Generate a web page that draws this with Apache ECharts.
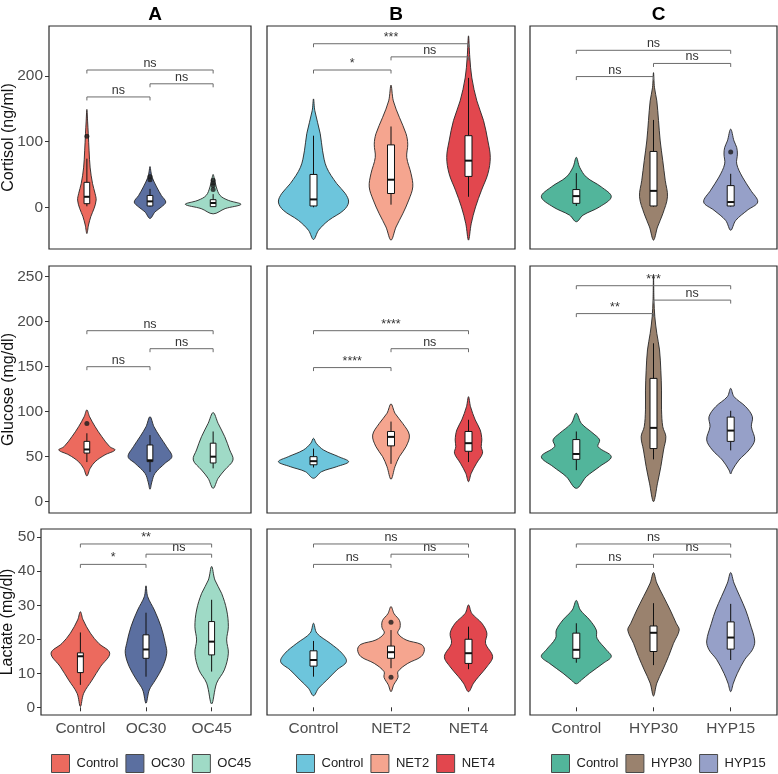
<!DOCTYPE html>
<html>
<head>
<meta charset="utf-8">
<script src="https://cdn.jsdelivr.net/npm/echarts@6/dist/echarts.min.js"></script>
<style>
html,body{margin:0;padding:0;background:#fff;}
#chart{width:778px;height:774px;}
</style>
</head>
<body>
<div id="chart"></div>
<script>
// ---------- labels ----------
const columnTitles = ['A', 'B', 'C'];
const rowTitles = ['Cortisol (ng/ml)', 'Glucose (mg/dl)', 'Lactate (mg/dl)'];
const groupsA = ['Control', 'OC30', 'OC45'];
const groupsB = ['Control', 'NET2', 'NET4'];
const groupsC = ['Control', 'HYP30', 'HYP15'];
const colorsA = ['#EC6A5E', '#5B6FA0', '#9FDAC6'];
const colorsB = ['#6DC5DC', '#F5A58F', '#E2474E'];
const colorsC = ['#52B59B', '#9A826E', '#96A0C8'];

// y tick labels per row
const cortisolTicks = [0, 100, 200];
const glucoseTicks = [0, 50, 100, 150, 200, 250];
const lactateTicks = [0, 10, 20, 30, 40, 50];

// ---------- violin profiles: [value, half-width (category units)] ----------
const cortisolViolinA = [
  [[149,0],[130,0.012],[112,0.022],[86,0.035],[60,0.052],[36,0.09],[21,0.13],[11,0.147],[-1.5,0.115],[-14,0.063],[-27,0.026],[-40,0]],
  [[62,0],[54,0.015],[46,0.032],[31,0.105],[18,0.18],[8,0.25],[0.5,0.18],[-7,0.08],[-17,0]],
  [[50,0],[45,0.016],[31,0.05],[18,0.11],[10.6,0.24],[4.5,0.44],[-2,0.19],[-10,0]]
];
const cortisolViolinB = [
  [[165,0],[147,0.017],[112,0.087],[86,0.117],[61,0.168],[36,0.3],[21,0.41],[8,0.453],[-4.5,0.39],[-20,0.194],[-35,0.065],[-49,0]],
  [[186,0],[162,0.03],[137,0.108],[112,0.194],[96,0.216],[76,0.203],[51,0.259],[31,0.281],[11,0.229],[-10,0.151],[-30,0.065],[-50,0]],
  [[261,0],[228,0.017],[197,0.043],[162,0.108],[132,0.194],[101,0.25],[76,0.281],[51,0.25],[26,0.168],[0.5,0.091],[-25,0.035],[-50,0]]
];
const cortisolViolinC = [
  [[76,0],[61,0.043],[46,0.13],[31,0.324],[16,0.453],[0.5,0.3],[-12,0.087],[-22,0]],
  [[205,0],[182,0.013],[162,0.043],[132,0.065],[101,0.087],[71,0.12],[41,0.152],[16,0.181],[-10,0.12],[-30,0.052],[-50,0]],
  [[119,0],[101,0.043],[91,0.078],[81,0.087],[66,0.078],[46,0.152],[26,0.259],[8,0.35],[-4.5,0.216],[-20,0.065],[-35,0]]
];
const glucoseViolinA = [
  [[102,0],[94.4,0.043],[83.3,0.131],[72.2,0.237],[61.1,0.363],[57.4,0.446],[51.9,0.284],[44.4,0.131],[37,0.052],[28.6,0]],
  [[94.4,0],[83.3,0.063],[72.2,0.158],[61.1,0.263],[50,0.347],[42.6,0.237],[31.5,0.079],[22,0.03],[13.7,0]],
  [[99,0],[87,0.079],[72.2,0.184],[57.4,0.263],[46.3,0.315],[35.2,0.184],[25.9,0.079],[14.8,0]]
];
const glucoseViolinB = [
  [[70.4,0],[64.9,0.035],[57.4,0.13],[50,0.324],[44.4,0.453],[38.9,0.3],[33.3,0.104],[26,0]],
  [[108.6,0],[98.2,0.052],[87,0.151],[74,0.237],[61.1,0.194],[50,0.108],[39,0.052],[24.9,0]],
  [[116.7,0],[105.6,0.026],[90.8,0.087],[79.7,0.151],[68.6,0.172],[61.1,0.164],[53.8,0.181],[42.7,0.104],[31.5,0.035],[22.2,0]]
];
const glucoseViolinC = [
  [[98.2,0],[87,0.065],[76,0.216],[68.6,0.302],[61.1,0.281],[50,0.453],[38.9,0.3],[27.8,0.13],[14.8,0]],
  [[252,0],[224,0.006],[205.6,0.017],[187,0.043],[168.6,0.078],[146,0.095],[124,0.104],[102,0.104],[83.3,0.12],[72.2,0.16],[57.4,0.13],[38.9,0.095],[20.5,0.052],[0,0]],
  [[125.9,0],[116.7,0.043],[105.6,0.194],[94.4,0.281],[83.3,0.268],[68.6,0.311],[57.4,0.237],[46.3,0.108],[35.2,0.022],[30.8,0]]
];
const lactateViolinA = [
  [[28.1,0],[25.7,0.041],[21.8,0.152],[18.8,0.279],[15.9,0.447],[11.9,0.305],[8,0.178],[4.1,0.05],[0.2,0]],
  [[35.7,0],[32.5,0.026],[28.6,0.127],[23.7,0.229],[18.8,0.294],[15.9,0.316],[11.9,0.255],[8,0.142],[5.1,0.05],[1.2,0]],
  [[41.4,0],[37.4,0.05],[33.5,0.152],[28.6,0.229],[23.7,0.255],[19.8,0.229],[15.9,0.255],[11,0.194],[7.1,0.076],[1,0]]
];
const lactateViolinB = [
  [[24.7,0],[21.8,0.043],[18.8,0.216],[15.9,0.367],[13.4,0.424],[11,0.302],[8,0.172],[5.6,0.065],[3.4,0]],
  [[29.6,0],[27.5,0.04],[25.5,0.11],[23.5,0.117],[21.8,0.087],[19.8,0.194],[18.5,0.389],[17,0.431],[14.9,0.389],[12.9,0.216],[10.5,0.09],[8.8,0.09],[6.6,0.035],[4.6,0]],
  [[30.1,0],[27.6,0.043],[24.7,0.172],[21.8,0.237],[18.8,0.22],[14.9,0.311],[11.9,0.237],[9,0.13],[7.1,0.065],[4.6,0]]
];
const lactateViolinC = [
  [[31.4,0],[28.6,0.052],[25.7,0.172],[22.7,0.259],[20.3,0.268],[16.9,0.389],[14.9,0.453],[12.9,0.346],[10,0.172],[8,0.065],[6.9,0]],
  [[39.6,0],[36.5,0.043],[32.5,0.13],[28.6,0.216],[24.7,0.294],[22.7,0.333],[18.8,0.259],[14.9,0.194],[11,0.12],[7.1,0.043],[3.3,0]],
  [[39.6,0],[36.5,0.043],[32.5,0.12],[28.6,0.194],[24.7,0.25],[19.5,0.311],[16.9,0.281],[14,0.181],[10,0.087],[7.1,0.035],[4.6,0]]
];

// ---------- box stats: [lower whisker, Q1, median, Q3, upper whisker] ----------
const cortisolBoxA = [[1.5,5.5,16,38,74],[1,2,9,18,28],[0.5,1,6.5,11.6,20]];
const cortisolBoxB = [[0,2,12,50,109],[4,21,42,95,123],[16,47,71,109,197]];
const cortisolBoxC = [[2,6,17,27,52],[1,2,25,85,133],[1,2,8,33,51]];
const glucoseBoxA = [[44,54,58,67,76],[33,44.5,46,63,74],[37,43,50,65,78]];
const glucoseBoxB = [[38,41,45,50,59],[42,62,72,78,89],[44,56,65,78,91]];
const glucoseBoxC = [[35,47,53,69,78],[47,59,82,137,176],[57,67,79,94,101]];
const lactateBoxA = [[6.6,10.2,15,16,22],[9,14.4,17,21.3,27.8],[10.5,15.4,19.3,25.2,31.6]];
const lactateBoxB = [[9,12.1,13.9,16.6,19.5],[11.5,14.4,16.2,18,22.7],[11.2,12.9,15.9,20,23.7]];
const lactateBoxC = [[13.1,14.4,16.9,21.8,24.7],[12.4,16.4,21.9,23.9,30.6],[13.9,17.1,20.5,25.1,30.4]];

// ---------- outliers: [group (1-3), value] ----------
const cortisolOutA = [[1,108],[2,42],[2,47],[3,27],[3,33],[3,37],[3,41]];
const cortisolOutB = [];
const cortisolOutC = [[3,84]];
const glucoseOutA = [[1,87]];
const glucoseOutB = [];
const glucoseOutC = [];
const lactateOutA = [];
const lactateOutB = [[2,25],[2,8.8]];
const lactateOutC = [];

// ---------- significance brackets: [from, to, value, label] ----------
const cortisolSigA = [[1,2,168,'ns'],[2,3,188,'ns'],[1,3,209,'ns']];
const cortisolSigB = [[1,2,209,'*'],[2,3,229,'ns'],[1,3,249,'***']];
const cortisolSigC = [[1,2,199,'ns'],[2,3,219,'ns'],[1,3,239,'ns']];
const glucoseSigA = [[1,2,150,'ns'],[2,3,170,'ns'],[1,3,190,'ns']];
const glucoseSigB = [[1,2,149,'****'],[2,3,170,'ns'],[1,3,190,'****']];
const glucoseSigC = [[1,2,209,'**'],[2,3,224,'ns'],[1,3,240,'***']];
const lactateSigA = [[1,2,42,'*'],[2,3,45,'ns'],[1,3,48,'**']];
const lactateSigB = [[1,2,42,'ns'],[2,3,45,'ns'],[1,3,48,'ns']];
const lactateSigC = [[1,2,42,'ns'],[2,3,45,'ns'],[1,3,48,'ns']];

// ---------- assembly ----------
const FONT = '"Liberation Sans", Arial, Helvetica, sans-serif';
const groups = [groupsA, groupsB, groupsC];
const colors = [colorsA, colorsB, colorsC];
const ticks = [cortisolTicks, glucoseTicks, lactateTicks];
const violins = [[cortisolViolinA, cortisolViolinB, cortisolViolinC],[glucoseViolinA, glucoseViolinB, glucoseViolinC],[lactateViolinA, lactateViolinB, lactateViolinC]];
const boxes = [[cortisolBoxA, cortisolBoxB, cortisolBoxC],[glucoseBoxA, glucoseBoxB, glucoseBoxC],[lactateBoxA, lactateBoxB, lactateBoxC]];
const outliers = [[cortisolOutA, cortisolOutB, cortisolOutC],[glucoseOutA, glucoseOutB, glucoseOutC],[lactateOutA, lactateOutB, lactateOutC]];
const sigs = [[cortisolSigA, cortisolSigB, cortisolSigC],[glucoseSigA, glucoseSigB, glucoseSigC],[lactateSigA, lactateSigB, lactateSigC]];

// layout (pixels)
const yMin = [-63.5, -12.6, -2.26];
const yMax = [276, 261.9, 52.4];
const gridTop = [26, 266, 529];
const gridHeight = [223, 247, 186];
const gridLeft = [[49, 267, 530], [49, 267, 530], [41, 267, 530]];
const gridRightEdge = [251, 515, 777];

const grids = [], xAxes = [], yAxes = [], series = [];

for (let r = 0; r < 3; r++) {
  for (let c = 0; c < 3; c++) {
    const gi = r * 3 + c;
    grids.push({
      left: gridLeft[r][c], top: gridTop[r],
      width: gridRightEdge[c] - gridLeft[r][c], height: gridHeight[r],
      show: true, borderColor: '#2a2a2a', borderWidth: 1.2, backgroundColor: '#fff'
    });
    const g = groups[c];
    xAxes.push({
      gridIndex: gi, type: 'value', min: 0.4, max: 3.6,
      show: r === 2,
      axisLine: { show: false }, splitLine: { show: false },
      axisTick: { show: true, length: 4, customValues: [1, 2, 3], lineStyle: { color: '#333' } },
      axisLabel: { customValues: [1, 2, 3], margin: 6, fontSize: 15.5, color: '#4d4d4d', fontFamily: FONT,
        formatter: v => g[Math.round(v) - 1] }
    });
    yAxes.push({
      gridIndex: gi, type: 'value', min: yMin[r], max: yMax[r],
      show: c === 0,
      axisLine: { show: false }, splitLine: { show: false },
      axisTick: { show: true, length: 4, customValues: ticks[r], lineStyle: { color: '#333' } },
      axisLabel: { customValues: ticks[r], margin: 6, fontSize: 15.5, color: '#4d4d4d', fontFamily: FONT }
    });

    // violins
    violins[r][c].forEach((profile, k) => {
      series.push({
        type: 'custom', name: columnTitles[c] + '|' + g[k],
        xAxisIndex: gi, yAxisIndex: gi, clip: true, z: 2,
        itemStyle: { color: colors[c][k] },
        data: [[k + 1, profile[0][0]]],
        renderItem: (params, api) => {
          const x = api.value(0);
          const right = profile.map(p => api.coord([x + p[1], p[0]]));
          const left = profile.slice(1, -1).reverse().map(p => api.coord([x - p[1], p[0]]));
          return {
            type: 'polygon',
            shape: { points: right.concat(left), smooth: 0.35 },
            style: { fill: colors[c][k], stroke: '#262626', lineWidth: 0.9 }
          };
        }
      });
    });

    // boxes
    const bx = boxes[r][c];
    series.push({
      type: 'custom', name: 'box' + gi, xAxisIndex: gi, yAxisIndex: gi, z: 3, clip: true,
      data: bx.map((b, k) => [k + 1].concat(b)),
      renderItem: (params, api) => {
        const x = api.value(0);
        const pLo = api.coord([x, api.value(1)]);
        const pQ1 = api.coord([x, api.value(2)]);
        const pMed = api.coord([x, api.value(3)]);
        const pQ3 = api.coord([x, api.value(4)]);
        const pHi = api.coord([x, api.value(5)]);
        const bw = api.size([0.09, 0])[0];
        const ln = { stroke: '#111', lineWidth: 1 };
        return {
          type: 'group',
          children: [
            { type: 'line', shape: { x1: pLo[0], y1: pLo[1], x2: pQ1[0], y2: pQ1[1] }, style: ln },
            { type: 'line', shape: { x1: pQ3[0], y1: pQ3[1], x2: pHi[0], y2: pHi[1] }, style: ln },
            { type: 'rect', shape: { x: pQ3[0] - bw / 2, y: pQ3[1], width: bw, height: pQ1[1] - pQ3[1] },
              style: { fill: '#fff', stroke: '#111', lineWidth: 1 } },
            { type: 'line', shape: { x1: pMed[0] - bw / 2, y1: pMed[1], x2: pMed[0] + bw / 2, y2: pMed[1] },
              style: { stroke: '#111', lineWidth: 2 } }
          ]
        };
      }
    });

    // outliers
    if (outliers[r][c].length) {
      series.push({
        type: 'scatter', name: 'out' + gi, xAxisIndex: gi, yAxisIndex: gi, z: 4,
        symbolSize: 5, itemStyle: { color: '#1a1a1a' },
        data: outliers[r][c]
      });
    }

    // significance brackets
    const sg = sigs[r][c];
    series.push({
      type: 'custom', name: 'sig' + gi, xAxisIndex: gi, yAxisIndex: gi, z: 5,
      data: sg.map(s => [s[0], s[1], s[2]]),
      renderItem: (params, api) => {
        const p1 = api.coord([api.value(0), api.value(2)]);
        const p2 = api.coord([api.value(1), api.value(2)]);
        const tip = 3.5;
        return {
          type: 'group',
          children: [
            { type: 'polyline', shape: { points: [[p1[0], p1[1] + tip], [p1[0], p1[1]], [p2[0], p2[1]], [p2[0], p2[1] + tip]] },
              style: { stroke: '#6b6b6b', lineWidth: 1, fill: null } },
            { type: 'text', x: (p1[0] + p2[0]) / 2, y: p1[1] - 6.4,
              style: { text: sg[params.dataIndex][3], textAlign: 'center', textVerticalAlign: 'middle',
                font: '12.5px ' + FONT, fill: '#333' } }
          ]
        };
      }
    });
  }
}

// legends (one per column)
const legendLeft = [51, 296, 551];
const legends = columnTitles.map((t, c) => ({
  data: groups[c].map(n => t + '|' + n),
  left: legendLeft[c], top: 754, padding: 0, itemGap: 7,
  itemWidth: 18, itemHeight: 18, icon: 'rect', selectedMode: false,
  itemStyle: { borderColor: '#4a4a4a', borderWidth: 1 },
  formatter: n => n.split('|')[1],
  textStyle: { fontSize: 13, color: '#222', fontFamily: FONT, padding: [0, 0, 0, 2] }
}));

const titleCenter = [150, 391, 653.5];
const titles = columnTitles.map((t, i) => ({
  text: t, left: titleCenter[i], top: 0, textAlign: 'center',
  textStyle: { fontSize: 19, fontWeight: 'bold', color: '#000', fontFamily: FONT }
}));

const rowTitleX = [9, 9, 8];
const graphic = rowTitles.map((t, r) => ({
  type: 'text', x: rowTitleX[r], y: gridTop[r] + gridHeight[r] / 2, rotation: Math.PI / 2,
  style: { text: t, textAlign: 'center', textVerticalAlign: 'middle', font: '16px ' + FONT, fill: '#111' }
}));

const chart = echarts.init(document.getElementById('chart'), null, { renderer: 'canvas' });
chart.setOption({
  animation: false,
  backgroundColor: '#fff',
  title: titles,
  grid: grids,
  xAxis: xAxes,
  yAxis: yAxes,
  legend: legends,
  graphic: graphic,
  series: series
});
</script>
</body>
</html>
